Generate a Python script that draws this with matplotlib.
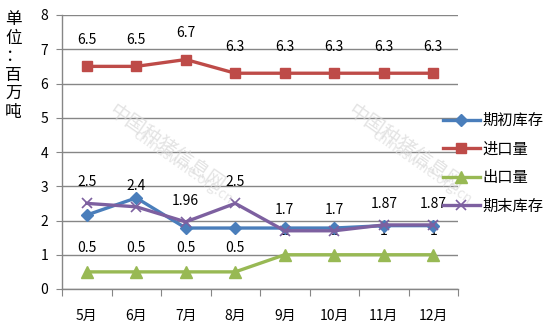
import matplotlib
matplotlib.use("Agg")
import matplotlib.pyplot as plt
from matplotlib.lines import Line2D

plt.rcParams['font.family'] = ['Noto Sans CJK SC', 'DejaVu Sans']

months = ["5月", "6月", "7月", "8月", "9月", "10月", "11月", "12月"]
opening_stock = [2.16, 2.66, 1.78, 1.78, 1.78, 1.78, 1.85, 1.85]
imports = [6.5, 6.5, 6.7, 6.3, 6.3, 6.3, 6.3, 6.3]
exports = [0.5, 0.5, 0.5, 0.5, 1, 1, 1, 1]
closing_stock = [2.5, 2.4, 1.96, 2.5, 1.7, 1.7, 1.87, 1.87]
series_names = ["期初库存", "进口量", "出口量", "期末库存"]

fig = plt.figure(figsize=(5.55, 3.28), dpi=100)
ax = fig.add_axes([62/555, 1-289/328, (458-62)/555, (289-15)/328])

x = [i + 0.5 for i in range(len(months))]

c_blue, c_red, c_green, c_purple = "#4A7EBB", "#BE4B48", "#98B954", "#7D60A0"

ax.plot(x, opening_stock, color=c_blue, lw=2.4, marker="D", ms=6, zorder=4)
ax.plot(x, imports, color=c_red, lw=2.4, marker="s", ms=7.5, zorder=4)
ax.plot(x, exports, color=c_green, lw=2.4, marker="^", ms=8, zorder=4)
ax.plot(x, closing_stock, color=c_purple, lw=2.4, marker="x", ms=7, mew=1.2, zorder=5)

def fmt(v):
    return ("%g" % v)

for xi, v in zip(x, imports):
    ax.annotate(fmt(v), (xi, v), xytext=(0, 14), textcoords="offset points",
                ha="center", va="bottom", fontsize=10)
for xi, v in zip(x, closing_stock):
    ax.annotate(fmt(v), (xi, v), xytext=(0, 10), textcoords="offset points",
                ha="center", va="bottom", fontsize=10)
for xi, v in zip(x, exports):
    ax.annotate(fmt(v), (xi, v), xytext=(0, 12), textcoords="offset points",
                ha="center", va="bottom", fontsize=10)

ax.set_xlim(0, 8)
ax.set_ylim(0, 8)
ax.set_yticks(range(0, 9))
ax.set_xticks(range(0, 9))
ax.set_xticklabels([])
ax.set_xticks(x, minor=True)
ax.set_xticklabels(months, minor=True, fontsize=10)
ax.tick_params(axis="x", which="minor", length=0, pad=14)
ax.tick_params(axis="x", which="major", length=5, color="#868686", direction="out")
ax.tick_params(axis="y", length=4, color="#868686", labelsize=10, pad=6)
ax.grid(axis="y", color="#868686", lw=1)
ax.set_axisbelow(True)
for s in ["top", "right"]:
    ax.spines[s].set_visible(False)
for s in ["left", "bottom"]:
    ax.spines[s].set_color("#868686")
    ax.spines[s].set_linewidth(1)

# unit label written vertically
fig.text(0.024, 1-11/328, "单\n位\n：\n百\n万\n吨", ha="center", va="top",
         fontsize=12, linespacing=1.12)

# faint watermark
for (wx, wy) in [(0.30, 0.55), (0.73, 0.55)]:
    fig.text(wx, wy, "中国种猪信息网", rotation=-35, fontsize=14, color="#d8d8d8",
             ha="center", va="center", alpha=0.7, zorder=0)
    fig.text(wx + 0.03, wy - 0.06, "chinaswine.org.cn", rotation=-35, fontsize=10,
             color="#dddddd", ha="center", va="center", alpha=0.7, zorder=0)

handles = [
    Line2D([], [], color=c_blue, lw=2.4, marker="D", ms=6),
    Line2D([], [], color=c_red, lw=2.4, marker="s", ms=7.5),
    Line2D([], [], color=c_green, lw=2.4, marker="^", ms=8),
    Line2D([], [], color=c_purple, lw=2.4, marker="x", ms=7, mew=1.2),
]
fig.legend(handles, series_names, loc="upper left", bbox_to_anchor=(443/555, 1-112/328),
           frameon=False, fontsize=11, handlelength=2.4, handletextpad=0.2,
           labelspacing=0.75, borderaxespad=0, borderpad=0)

fig.savefig("out.png", dpi=100)
